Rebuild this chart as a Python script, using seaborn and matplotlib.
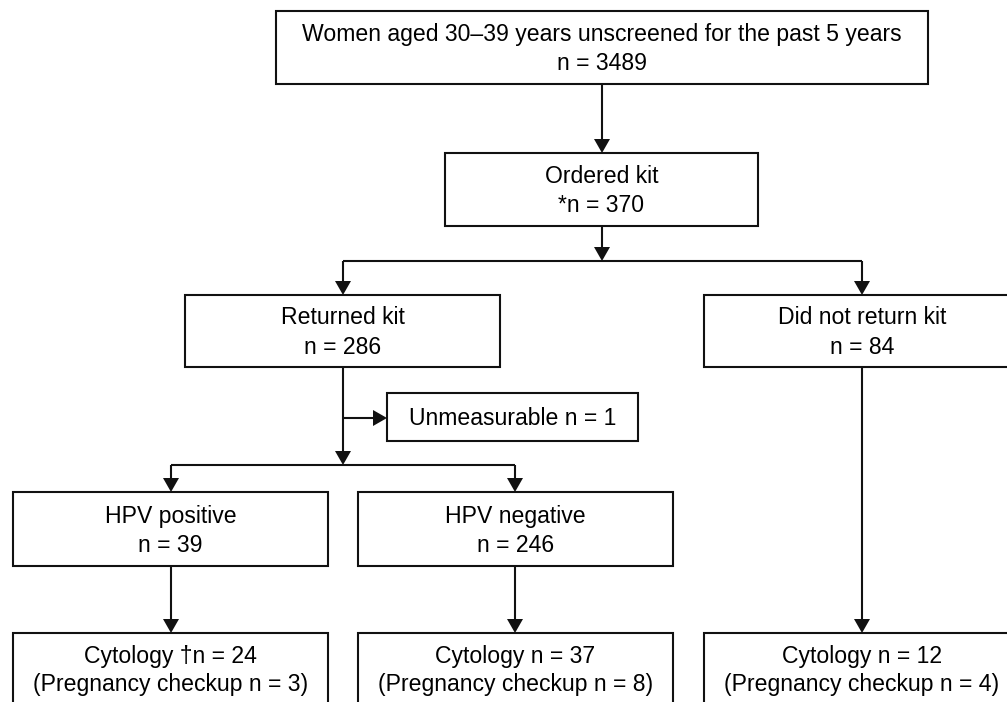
import matplotlib
matplotlib.use("Agg")
import matplotlib.pyplot as plt
from matplotlib.patches import Rectangle, Polygon
import seaborn as sns

# Werte aus dem Flussdiagramm
stage_labels = ["Women aged 30–39 years unscreened for the past 5 years",
                "Ordered kit", "Returned kit", "Did not return kit",
                "HPV positive", "HPV negative"]
stage_counts = [3489, 370, 286, 84, 39, 246]
count_prefix = ["n = ", "*n = ", "n = ", "n = ", "n = ", "n = "]
unmeasurable_n = 1
cytology_labels = ["Cytology †n = ", "Cytology n = ", "Cytology n = "]
cytology_counts = [24, 37, 12]
pregnancy_counts = [3, 8, 4]

sns.set_theme(style="white")
plt.rcParams["font.family"] = ["Liberation Sans", "DejaVu Sans"]

INK = "#111111"
LW = 1.5
FS = 16.6

fig = plt.figure(figsize=(10.07, 7.02), dpi=100)
ax = fig.add_axes([0, 0, 1, 1])
ax.set_xlim(0, 1007)
ax.set_ylim(702, 0)
ax.axis("off")


def box(x0, y0, x1, y1):
    ax.add_patch(Rectangle((x0, y0), x1 - x0, y1 - y0, facecolor="white",
                           edgecolor=INK, lw=LW, zorder=2))


def line(xs, ys):
    ax.plot(xs, ys, color=INK, lw=LW, solid_capstyle="butt", zorder=1)


def arrow_down(x, y0, y1):
    line([x, x], [y0, y1 - 12])
    ax.add_patch(Polygon([(x - 8, y1 - 14), (x + 8, y1 - 14), (x, y1)],
                         closed=True, facecolor=INK, edgecolor="none", zorder=3))


def arrow_right(y, x0, x1):
    line([x0, x1 - 12], [y, y])
    ax.add_patch(Polygon([(x1 - 14, y - 8), (x1 - 14, y + 8), (x1, y)],
                         closed=True, facecolor=INK, edgecolor="none", zorder=3))


def label(x, y, s):
    # y = Mitte der Grossbuchstaben
    ax.text(x, y + 8, s, ha="center", va="baseline", fontsize=FS, color="black", zorder=4)


# Kästen (x0, y0, x1, y1)
stage_boxes = [(276, 11, 928, 84), (445, 153, 758, 226), (185, 295, 500, 367),
               (704, 295, 1020, 367), (13, 492, 328, 566), (358, 492, 673, 566)]
cyto_boxes = [(13, 633, 328, 720), (358, 633, 673, 720), (704, 633, 1020, 720)]
unmeas_box = (387, 393, 638, 441)

for (x0, y0, x1, y1), name, pre, n in zip(stage_boxes, stage_labels, count_prefix, stage_counts):
    box(x0, y0, x1, y1)
    cx, cy = (x0 + x1) / 2, (y0 + y1) / 2
    label(cx, cy - 14.5, name)
    label(cx, cy + 14.5, f"{pre}{n}")

for (x0, y0, x1, y1), name, n, p in zip(cyto_boxes, cytology_labels, cytology_counts, pregnancy_counts):
    box(x0, y0, x1, y1)
    cx = (x0 + x1) / 2
    label(cx, 655, f"{name}{n}")
    label(cx, 683, f"(Pregnancy checkup n = {p})")

box(*unmeas_box)
label((unmeas_box[0] + unmeas_box[2]) / 2, 417, f"Unmeasurable n = {unmeasurable_n}")

# Verbindungen
arrow_down(602, 84, 153)
arrow_down(602, 226, 261)
line([343, 862], [261, 261])
arrow_down(343, 261, 295)
arrow_down(862, 261, 295)
arrow_down(343, 367, 465)
arrow_right(418, 343, 387)
line([171, 515], [465, 465])
arrow_down(171, 465, 492)
arrow_down(515, 465, 492)
arrow_down(171, 566, 633)
arrow_down(515, 566, 633)
arrow_down(862, 367, 633)

fig.savefig("out.png", dpi=100, facecolor="white")
